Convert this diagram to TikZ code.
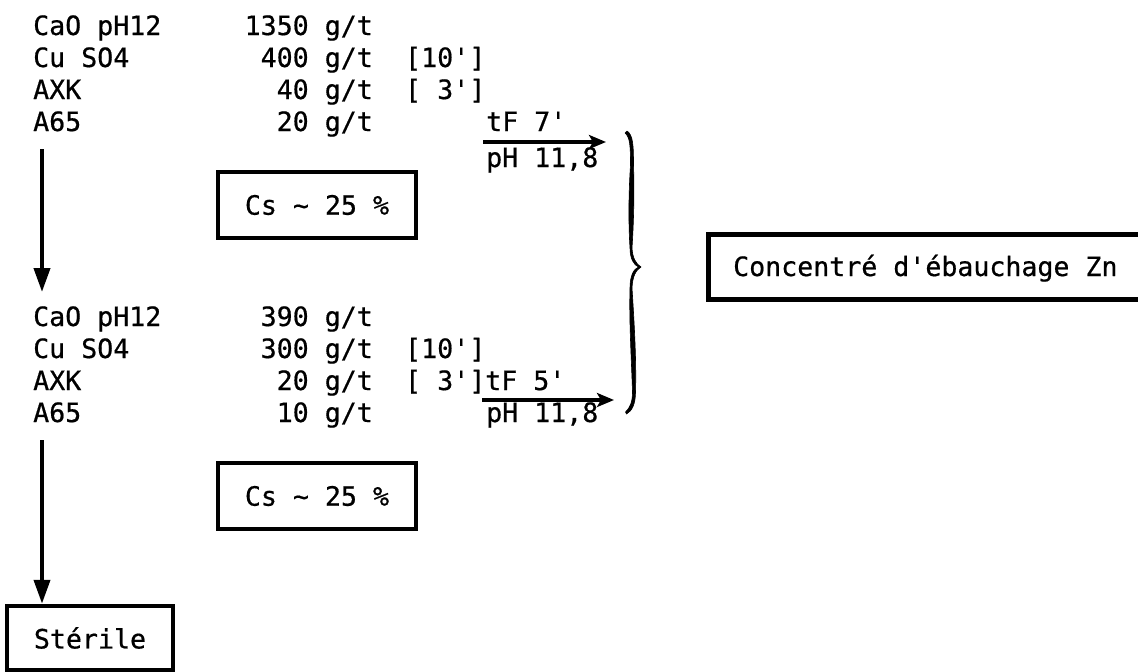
\documentclass[tikz,border=0pt]{standalone}
\usepackage{fontspec}
\newfontfamily\tw{DejaVu Sans Mono}[FakeBold=0.6]
\usetikzlibrary{arrows.meta}
\begin{document}
\begin{tikzpicture}[x=1pt,y=-1pt,
  txt/.style={font=\tw\fontsize{26.6}{28}\selectfont, inner sep=0pt, anchor=base west},
  amt/.style={txt, anchor=base east},
  box/.style={draw, line width=4.5pt, inner sep=0pt, font=\tw\fontsize{26.6}{28}\selectfont},
  flow/.style={line width=4pt, -{Triangle[length=24pt,width=16pt]}},
  side/.style={line width=4.5pt, -{Stealth[length=17pt,width=14pt,inset=4pt]}},
  brace/.style={fill=black, draw=black, line width=0.6pt, line join=round}]
\useasboundingbox (0,0) rectangle (1138,672);

% block 1
\node[txt] (n1) at (33,35) {CaO pH12};
\node[txt] (n2) at (33,67) {Cu SO4};
\node[txt] (n3) at (33,99) {AXK};
\node[txt] (n4) at (33,131) {A65};
\node[amt] (q1) at (373,35) {1350 g/t};
\node[amt] (q2) at (373,67) {400 g/t};
\node[amt] (q3) at (373,99) {40 g/t};
\node[amt] (q4) at (373,131) {20 g/t};
\node[txt] (b2) at (405,67) {[10']};
\node[txt] (b3) at (405,99) {[ 3']};
\node[txt] (t1) at (486,131) {tF 7'};
\node[txt] (p1) at (486,167) {pH 11,8};
\coordinate (h1s) at (483,142);
\coordinate (h1e) at (606,142);
\draw[side] (h1s) -- (h1e);

\node[box, minimum width=198pt, minimum height=66pt] (cs1) at (317,205) {Cs \char`\~{} 25 \%};

\coordinate (a1s) at (42,149);
\coordinate (a1e) at (42,292);
\draw[flow] (a1s) -- (a1e);

% block 2
\node[txt] (n5) at (33,326) {CaO pH12};
\node[txt] (n6) at (33,358) {Cu SO4};
\node[txt] (n7) at (33,390) {AXK};
\node[txt] (n8) at (33,422) {A65};
\node[amt] (q5) at (373,326) {390 g/t};
\node[amt] (q6) at (373,358) {300 g/t};
\node[amt] (q7) at (373,390) {20 g/t};
\node[amt] (q8) at (373,422) {10 g/t};
\node[txt] (b6) at (405,358) {[10']};
\node[txt] (b7) at (405,390) {[ 3']tF 5'};
\node[txt] (p2) at (486,422) {pH 11,8};
\coordinate (h2s) at (482,400);
\coordinate (h2e) at (614,400);
\draw[side] (h2s) -- (h2e);

\node[box, minimum width=198pt, minimum height=66pt] (cs2) at (317,496) {Cs \char`\~{} 25 \%};

\node[box, minimum width=166pt, minimum height=64pt] (ster) at (90,638) {Stérile};
\coordinate (a2s) at (42,440);
\draw[flow] (a2s) -- (a2s |- ster.north);

% brace (filled, thicker in the middle of each arm)
\path[brace]
  (627,131) .. controls (633,135) and (633.5,145) .. (633.5,165)
  .. controls (634.5,195) and (633.5,225) .. (632,248)
  .. controls (632.5,258) and (636,264) .. (641,267)
  .. controls (636,270) and (632.5,276) .. (632,288)
  .. controls (634,320) and (636.5,360) .. (635.5,392)
  .. controls (635.5,404) and (632,411) .. (626.5,414)
  -- (625.5,412)
  .. controls (630,408) and (632.5,402) .. (632.5,392)
  .. controls (631.5,360) and (629,320) .. (630,288)
  .. controls (630,275) and (634,269) .. (638.5,267)
  .. controls (634,265) and (630,259) .. (630,248)
  .. controls (628.5,225) and (628.5,195) .. (630.5,165)
  .. controls (630.5,146) and (630,137) .. (625,133) -- cycle;

% concentrate box
\node[box, minimum width=444pt, minimum height=65pt, anchor=west] (conc) at (706,267) {};
\node[txt] (conct) at (733,276) {Concentré d'ébauchage Zn};
\end{tikzpicture}
\end{document}
